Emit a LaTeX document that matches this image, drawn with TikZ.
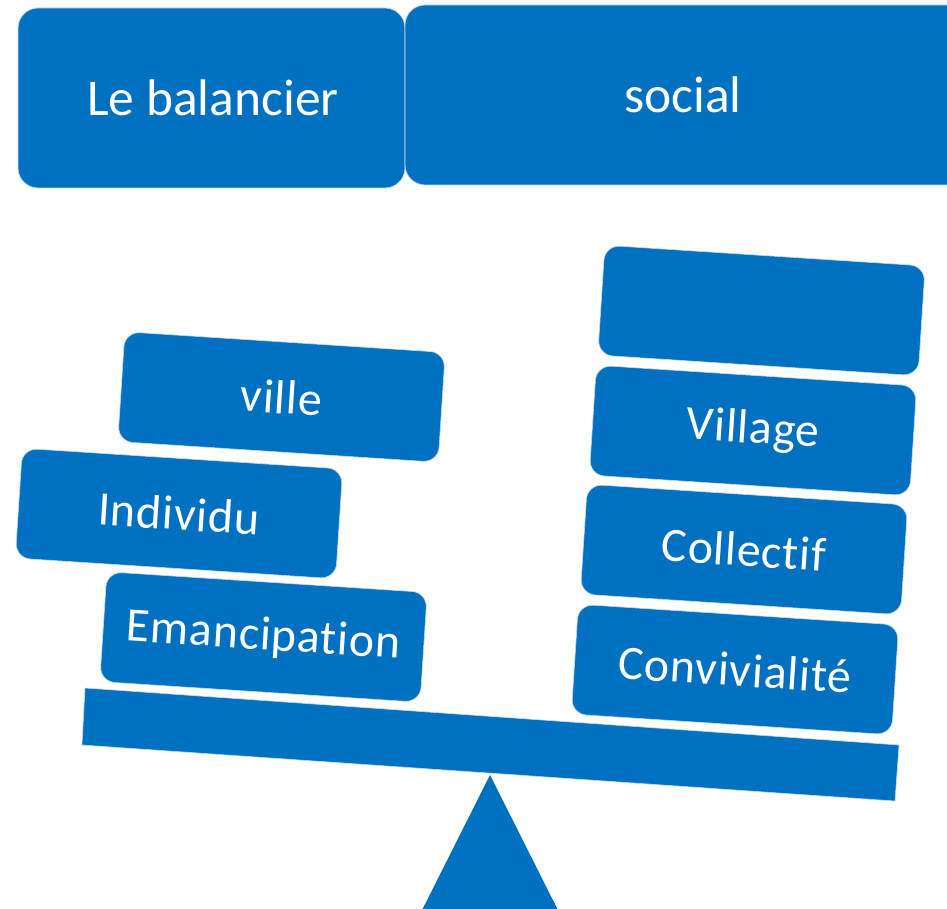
\documentclass[tikz,border=0pt]{standalone}
\usepackage{fontspec}
\setmainfont{Carlito}[Ligatures={NoCommon,NoContextual,NoDiscretionary,NoRare}]
\definecolor{obl}{HTML}{0070C0}
\definecolor{edge}{HTML}{C5D9EE}
\begin{document}
\begin{tikzpicture}[x=1pt,y=-1pt,
  topbox/.style={fill=obl,draw=edge,line width=0.8pt,rounded corners=20pt},
  toptext/.style={text=white,font=\fontsize{51.5}{60}\selectfont,inner sep=0pt},
  weight/.style={fill=obl,draw=edge,line width=0.6pt,rounded corners=15pt,
    minimum width=321pt,minimum height=110pt,rotate=-3.7,inner sep=0pt,
    text=white,font=\fontsize{48}{58}\selectfont\addfontfeature{LetterSpace=1.5}},
  plate/.style={fill=obl,draw=edge,line width=0.6pt}]
\useasboundingbox (0,0) rectangle (947,909);
\clip (0,0) rectangle (947,909);
% title boxes
\draw[topbox] (18,8) rectangle (405,188);
\node[toptext] (t1) at (213,98) {Le balancier};
\draw[topbox] (405,5) rectangle (990,185);
\node[toptext] (t2) at (683,95) {social};
% fulcrum
\coordinate (apex) at (490,775);
\coordinate (fl) at (406,942);
\coordinate (fr) at (574,942);
\fill[obl] (apex) -- (fr) -- (fl) -- cycle;
% beam
\coordinate (b1) at (85,688);
\coordinate (b2) at (899,745);
\coordinate (b3) at (895,801);
\coordinate (b4) at (82,745);
\draw[plate] (b1) -- (b2) -- (b3) -- (b4) -- cycle;
% left stack
\node[weight] (ville) at (281.5,397) {ville};
\node[weight] (indiv) at (179,513.5) {Individu};
\node[weight] (emanc) at (263.5,637) {Emancipation};
% right stack
\node[weight] (empty) at (761.5,310.5) {};
\node[weight] (village) at (753,430.5) {Village};
\node[weight] (collectif) at (744,549.5) {Collectif};
\node[weight] (convi) at (735,669.5) {Convivialité};
\end{tikzpicture}
\end{document}
